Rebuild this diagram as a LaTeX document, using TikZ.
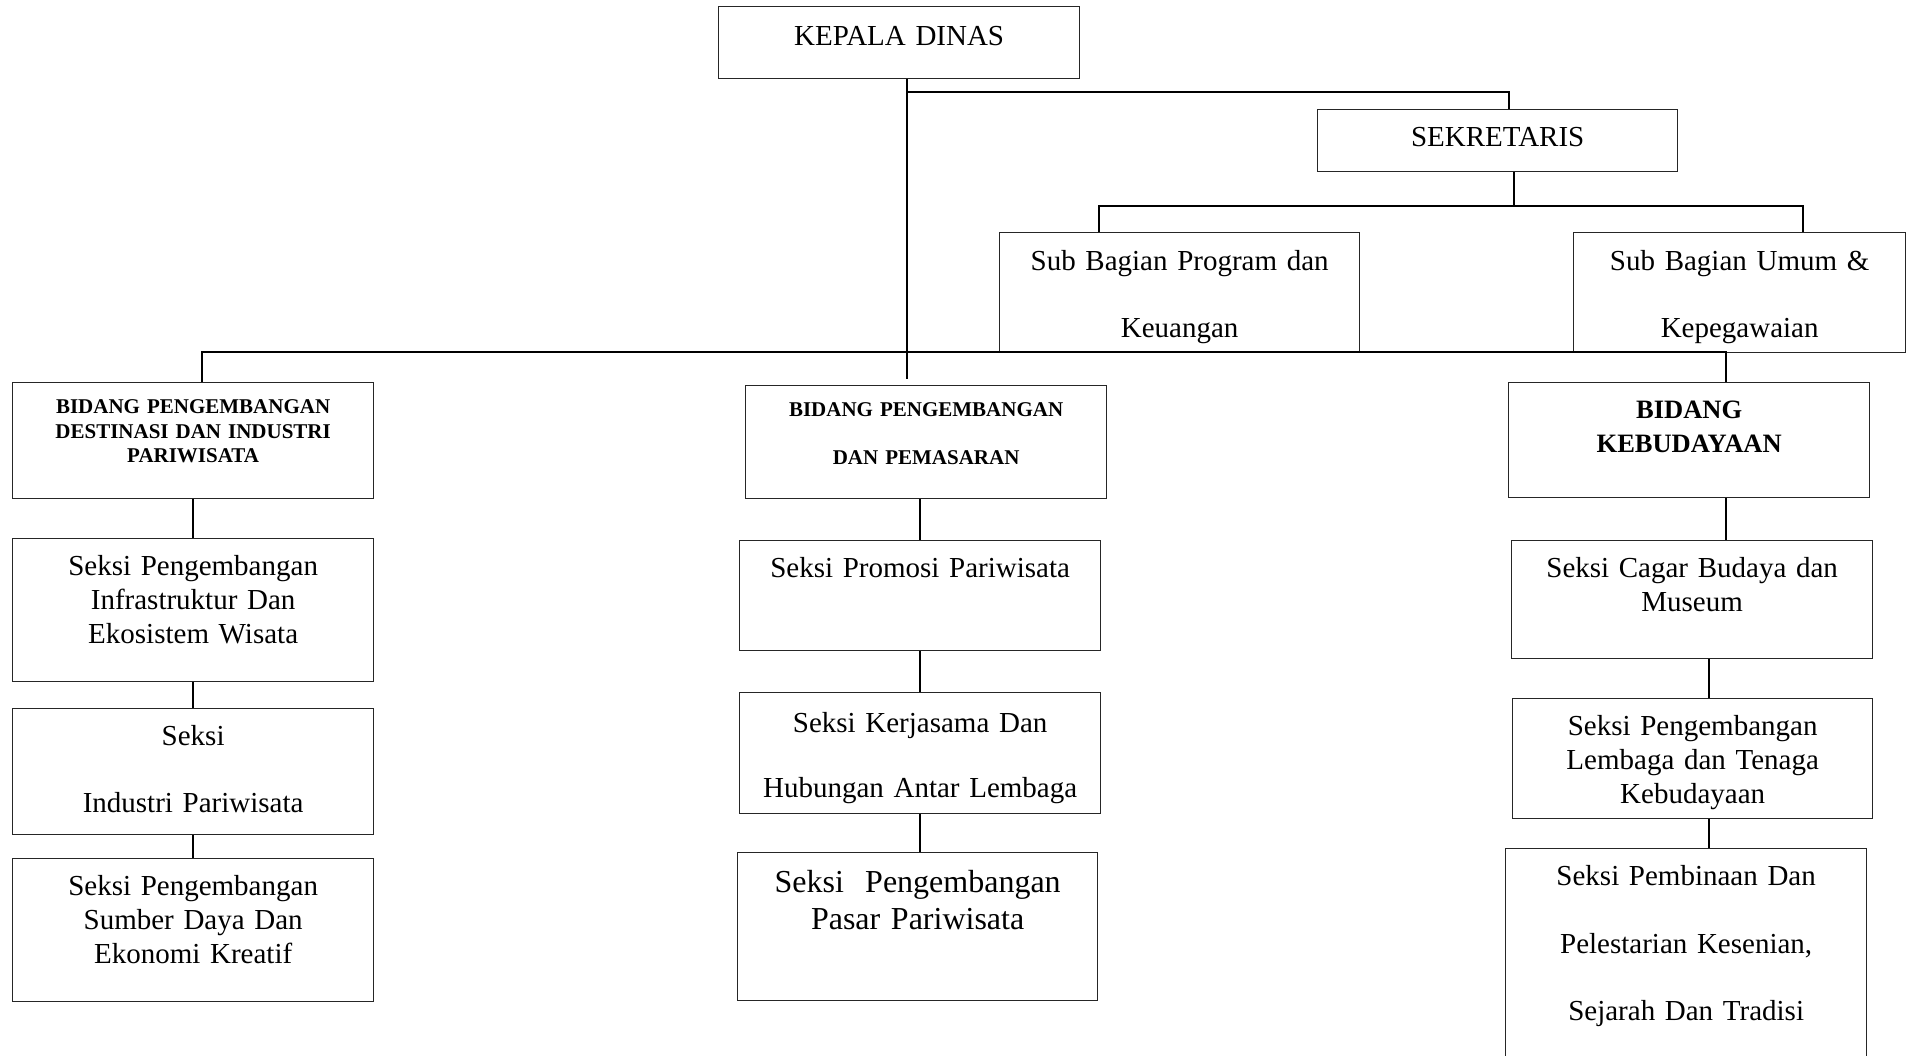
\documentclass[tikz,border=0pt]{standalone}
\usepackage{fontspec}
\setmainfont{Liberation Serif}

\begin{document}
\begin{tikzpicture}[
    x=1pt, y=-1pt,
    unit/.style={draw=black!85, line width=1.3pt, inner sep=0pt,
      anchor=north west, align=center, text height=37pt},
    plain/.style={font=\fontsize{29}{34}\selectfont},
    wide/.style={font=\fontsize{29}{67}\selectfont},
    head/.style={font=\fontsize{21}{24.5}\selectfont\bfseries},
    link/.style={line width=2pt}
  ]
  \useasboundingbox (0,0) rectangle (1909,1056);

  % pimpinan dan sekretariat
  \node[unit, plain, text width=361pt, text height=39pt, text depth=33pt]
    (kepala) at (718,6) {KEPALA DINAS};
  \node[unit, plain, text width=360pt, text depth=25pt]
    (sekretaris) at (1317,109) {SEKRETARIS};
  \node[unit, wide, text width=360pt, text height=38pt, text depth=82pt]
    (subprog) at (999,232) {Sub Bagian Program dan\\Keuangan};
  \node[unit, wide, text width=332pt, text height=38pt, text depth=82pt]
    (subumum) at (1573,232) {Sub Bagian Umum \&\\Kepegawaian};

  % bidang
  \node[unit, head, text width=361pt, text height=31pt, text depth=85pt]
    (bidDest) at (12,382) {BIDANG PENGEMBANGAN\\DESTINASI DAN INDUSTRI\\PARIWISATA};
  \node[unit, head, font=\fontsize{21}{48}\selectfont\bfseries,
    text width=361pt, text height=31pt, text depth=82pt]
    (bidPem) at (745,385) {BIDANG PENGEMBANGAN\\DAN PEMASARAN};
  \node[unit, font=\fontsize{26.5}{34}\selectfont\bfseries,
    text width=361pt, text height=36pt, text depth=79pt]
    (bidBud) at (1508,382) {BIDANG\\KEBUDAYAAN};

  % seksi kolom kiri
  \node[unit, plain, text width=361pt, text depth=106pt]
    (sInfra) at (12,538) {Seksi Pengembangan\\Infrastruktur Dan\\Ekosistem Wisata};
  \node[unit, wide, text width=361pt, text depth=89pt]
    (sIndustri) at (12,708) {Seksi\\Industri Pariwisata};
  \node[unit, plain, text width=361pt, text depth=106pt]
    (sSDM) at (12,858) {Seksi Pengembangan\\Sumber Daya Dan\\Ekonomi Kreatif};

  % seksi kolom tengah
  \node[unit, plain, text width=361pt, text depth=73pt]
    (sPromosi) at (739,540) {Seksi Promosi Pariwisata};
  \node[unit, font=\fontsize{29}{65}\selectfont,
    text width=361pt, text height=40pt, text depth=81pt]
    (sKerja) at (739,692) {Seksi Kerjasama Dan\\Hubungan Antar Lembaga};
  \node[unit, font=\fontsize{32}{37}\selectfont,
    text width=360pt, text height=40pt, text depth=108pt]
    (sPasar) at (737,852) {Seksi\ \ Pengembangan\\Pasar Pariwisata};

  % seksi kolom kanan
  \node[unit, plain, text width=361pt, text depth=81pt]
    (sCagar) at (1511,540) {Seksi Cagar Budaya dan\\Museum};
  \node[unit, plain, text width=360pt, text depth=83pt]
    (sLembaga) at (1512,698) {Seksi Pengembangan\\Lembaga dan Tenaga\\Kebudayaan};
  \node[unit, font=\fontsize{29}{67.5}\selectfont, text width=361pt, text depth=193pt]
    (sBina) at (1505,848) {Seksi Pembinaan Dan\\Pelestarian Kesenian,\\Sejarah Dan Tradisi};

  % titik belok garis
  \coordinate (trunk) at (907,379);
  \coordinate (jA) at (907,92);
  \coordinate (jB) at (1509,92);
  \coordinate (jC) at (1514,206);
  \coordinate (jD) at (1099,206);
  \coordinate (jE) at (1803,206);
  \coordinate (mL) at (202,352);
  \coordinate (mR) at (1726,352);
  \coordinate (budX) at (1709,0);

  \draw[link] (trunk |- kepala.south) -- (trunk);
  \draw[link] (jA) -- (jB) -- (jB |- sekretaris.north);
  \draw[link] (jC |- sekretaris.south) -- (jC);
  \draw[link] (jD |- subprog.north) -- (jD) -- (jE) -- (jE |- subumum.north);
  \draw[link] (mL |- bidDest.north) -- (mL) -- (mR) -- (mR |- bidBud.north);

  \draw[link] (bidDest.south) -- (sInfra.north);
  \draw[link] (sInfra.south) -- (sIndustri.north);
  \draw[link] (sIndustri.south) -- (sSDM.north);

  \draw[link] (sPromosi.north |- bidPem.south) -- (sPromosi.north);
  \draw[link] (sPromosi.south) -- (sKerja.north);
  \draw[link] (sKerja.south) -- (sKerja.south |- sPasar.north);

  \draw[link] (mR |- bidBud.south) -- (mR |- sCagar.north);
  \draw[link] (budX |- sCagar.south) -- (budX |- sLembaga.north);
  \draw[link] (budX |- sLembaga.south) -- (budX |- sBina.north);
\end{tikzpicture}
\end{document}
